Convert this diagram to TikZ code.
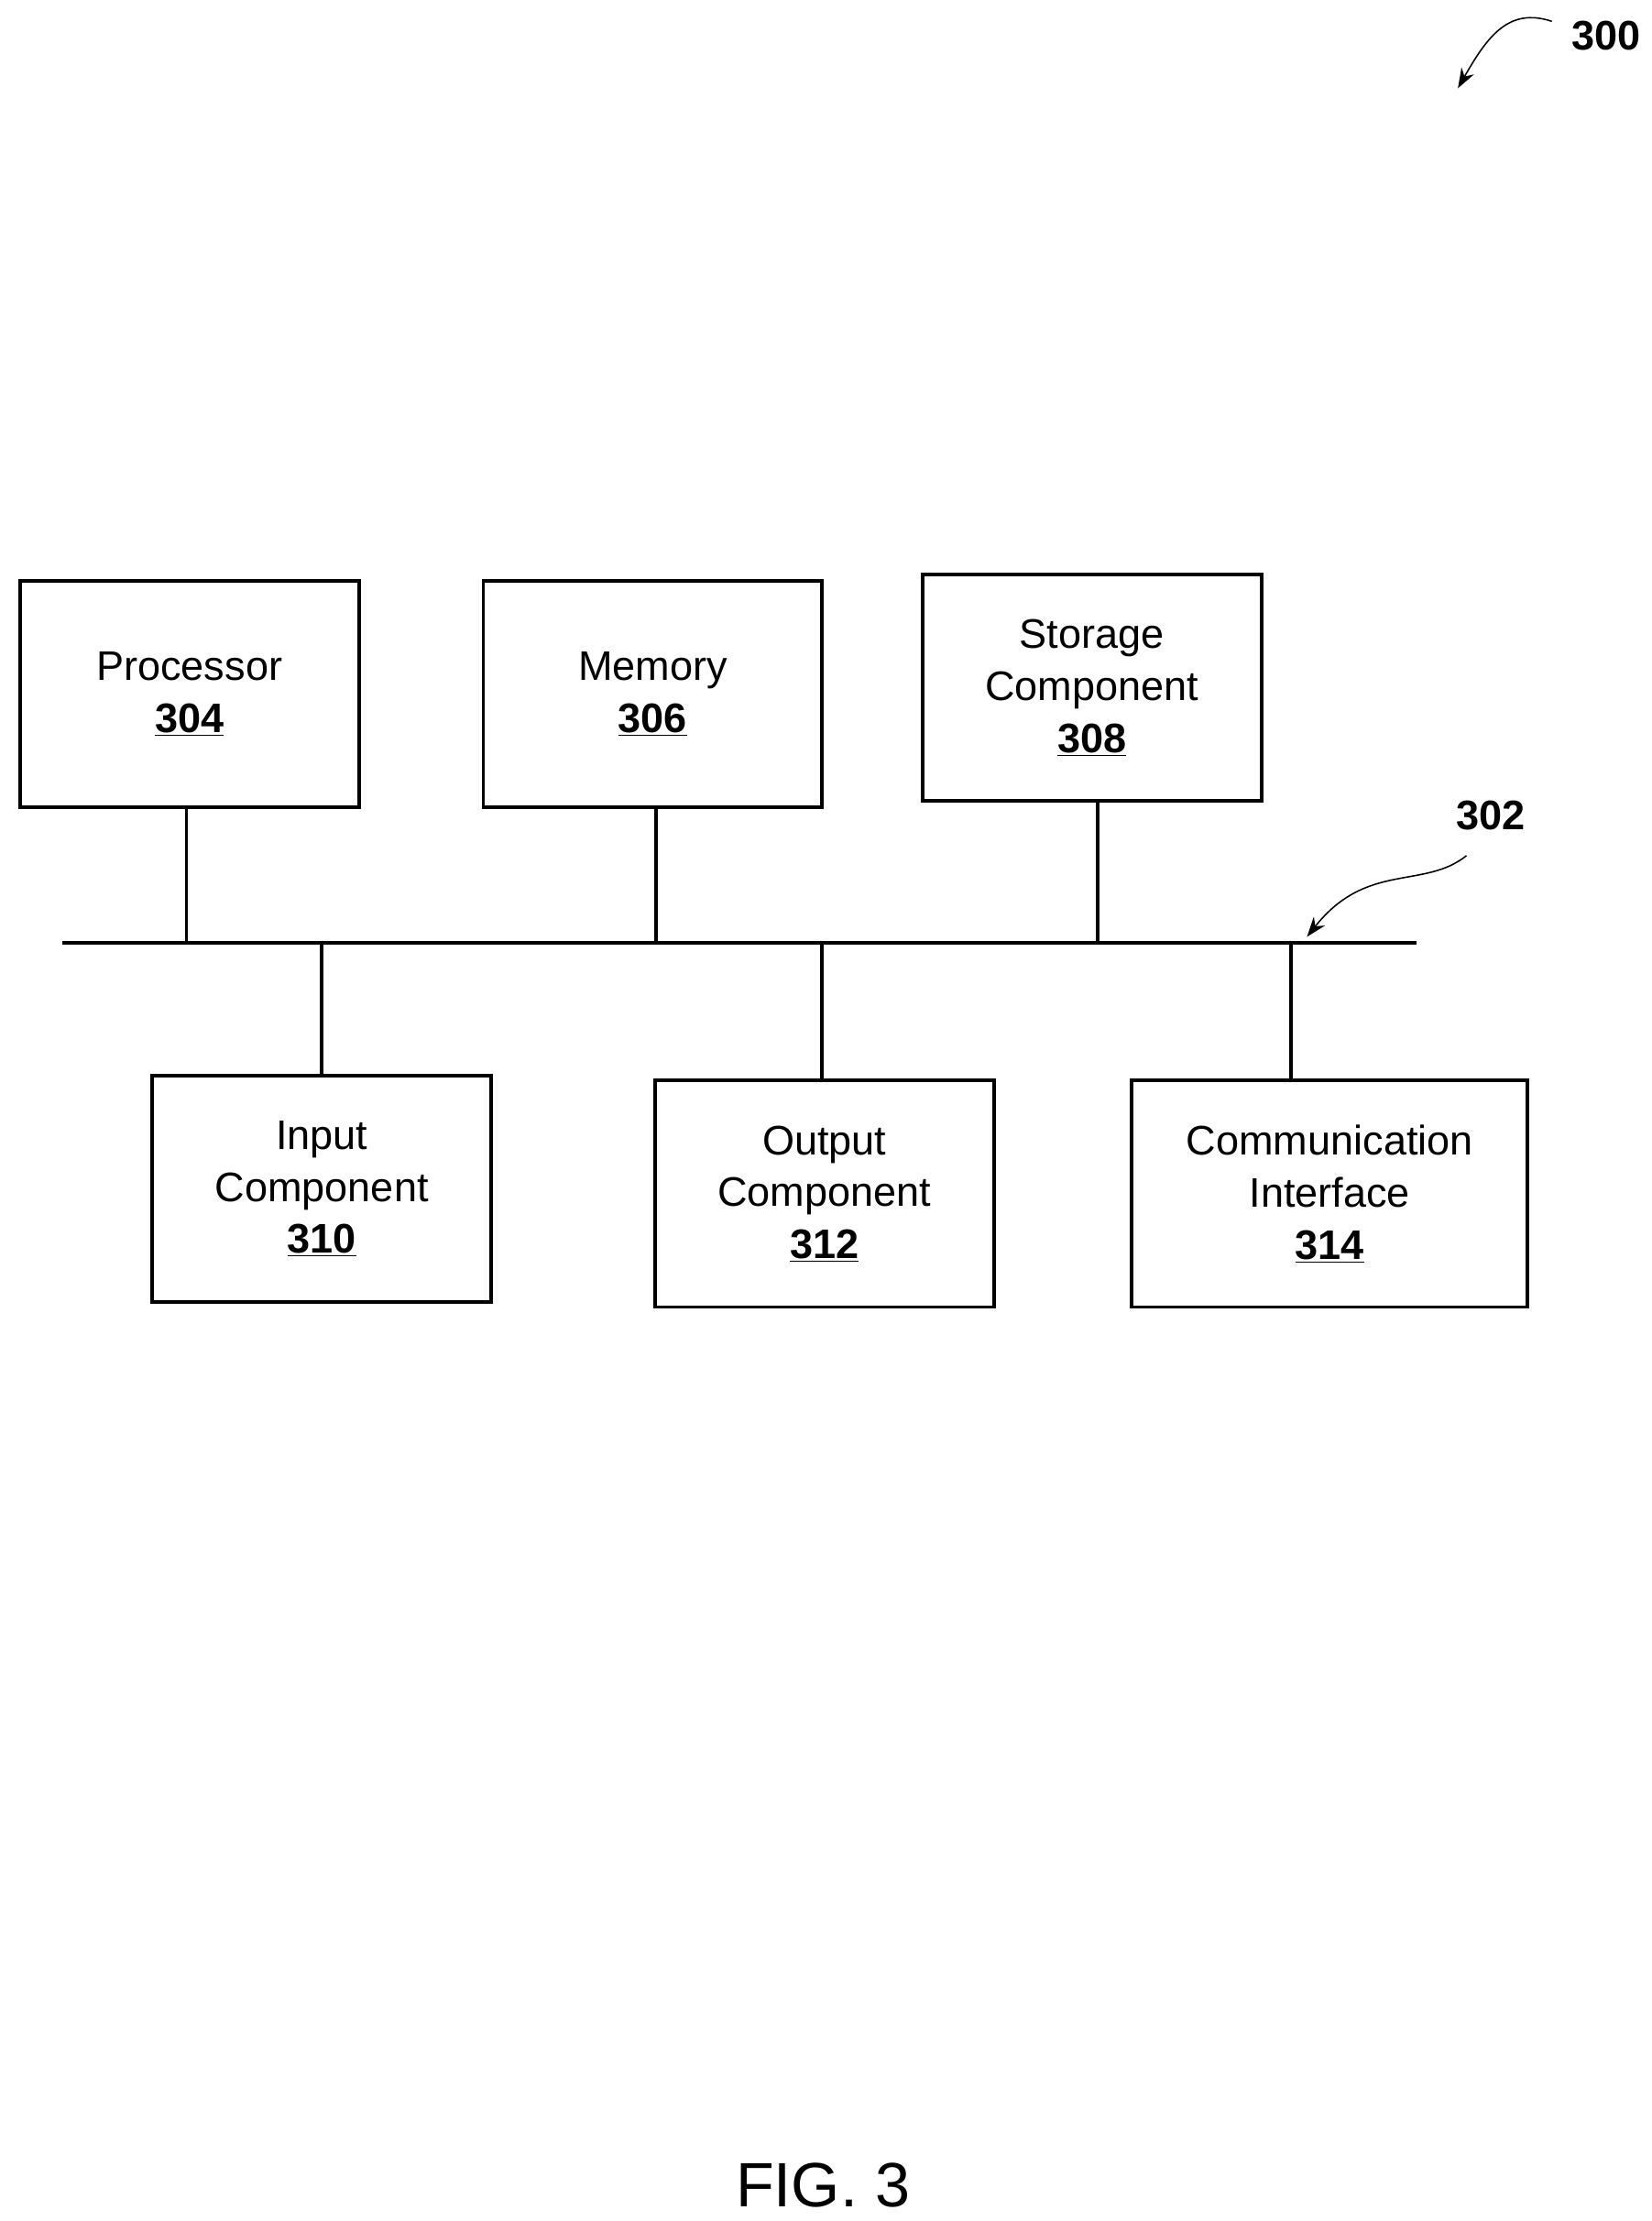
\documentclass[tikz,border=0pt]{standalone}
\usepackage{fontspec}
\setmainfont{Liberation Sans}
\usetikzlibrary{arrows.meta}
\begin{document}
\begin{tikzpicture}[x=1pt,y=-1pt,
  box/.style={draw,line width=2.5pt,minimum width=238pt,minimum height=159pt,align=center,font=\fontsize{29}{36.5}\selectfont,inner sep=0pt},
  conn/.style={line width=2.5pt},
  lbl/.style={font=\bfseries\fontsize{29}{34}\selectfont}]
\useasboundingbox (0,0) rectangle (1160,1560);
\node[box] (p) at (133,487.5) {Processor\\\textbf{\underline{304}}};
\node[box] (m) at (458.5,487.5) {Memory\\\textbf{\underline{306}}};
\node[box] (s) at (767,483) {Storage\\Component\\\textbf{\underline{308}}};
\node[box] (i) at (226,835) {Input\\Component\\\textbf{\underline{310}}};
\node[box] (o) at (579,838.5) {Output\\Component\\\textbf{\underline{312}}};
\node[box,minimum width=278pt] (c) at (934,838.5) {Communication\\Interface\\\textbf{\underline{314}}};
\coordinate (bl) at (44,662);
\coordinate (br) at (995,662);
\draw[conn] (bl) -- (br);
\draw[conn] (131,567) coordinate (pa) -- (pa |- bl);
\draw[conn] (461,567) coordinate (ma) -- (ma |- bl);
\draw[conn] (771,562) coordinate (sa) -- (sa |- bl);
\draw[conn] (226,756) coordinate (ia) -- (ia |- bl);
\draw[conn] (577,759) coordinate (oa) -- (oa |- bl);
\draw[conn] (907,759) coordinate (ca) -- (ca |- bl);
\node[lbl] (l302) at (1047,573) {302};
\coordinate (t302) at (918,658);
\draw[line width=1pt,-{Stealth[length=14pt,width=10pt]}] (1030,601) .. controls (1000,625) and (960,605) .. (t302);
\node[lbl] (l300) at (1128,25) {300};
\coordinate (t300) at (1024,62);
\draw[line width=1pt,-{Stealth[length=14pt,width=10pt]}] (1090,15) .. controls (1060,5) and (1045,25) .. (t300);
\node[font=\fontsize{44}{50}\selectfont] (fig) at (578,1535) {FIG. 3};
\end{tikzpicture}
\end{document}
